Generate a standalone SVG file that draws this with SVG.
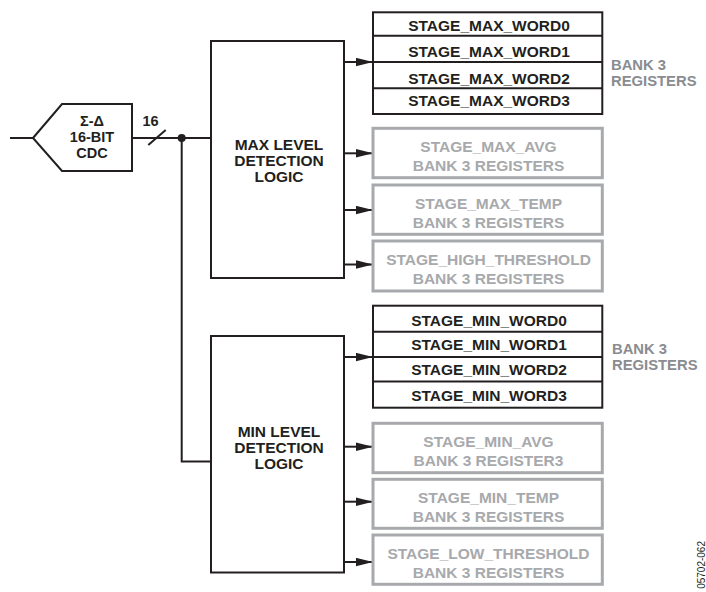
<svg xmlns="http://www.w3.org/2000/svg" width="706" height="592" viewBox="0 0 706 592">
<defs>
<marker id="arr" markerUnits="userSpaceOnUse" markerWidth="18" markerHeight="10" refX="17" refY="4.5" orient="auto">
<path d="M0,0.3 L17,4.5 L0,8.7 Z" fill="#231f20"/>
</marker>
<style>
.t{font-family:"Liberation Sans",Arial,sans-serif;font-weight:bold;font-size:15.5px;text-anchor:middle;fill:#231f20}
.s{font-size:14.5px}
.g{fill:#a7a9ac}
.lbl{font-family:"Liberation Sans",Arial,sans-serif;font-weight:bold;font-size:14.8px;fill:#898c90}
.box{fill:#fff;stroke:#231f20;stroke-width:2}
.gbox{fill:#fff;stroke:#a7a9ac;stroke-width:3}
.ln{fill:none;stroke:#231f20;stroke-width:2}
.foot{font-family:"Liberation Sans",Arial,sans-serif;font-size:10px;fill:#231f20;text-anchor:end}
</style>
</defs>

<g id="connectors">
<line class="ln" x1="10" y1="138" x2="33" y2="138"/>
<line class="ln" x1="132" y1="138" x2="211" y2="138"/>
<line class="ln" x1="148.3" y1="145" x2="165.7" y2="130"/>
<circle cx="181.7" cy="138" r="4" fill="#231f20"/>
<polyline class="ln" points="181.7,138 181.7,461.5 211,461.5"/>
<line class="ln" x1="344" y1="62" x2="373" y2="62" marker-end="url(#arr)"/>
<line class="ln" x1="344" y1="153.3" x2="373" y2="153.3" marker-end="url(#arr)"/>
<line class="ln" x1="344" y1="210" x2="373" y2="210" marker-end="url(#arr)"/>
<line class="ln" x1="344" y1="264.5" x2="373" y2="264.5" marker-end="url(#arr)"/>
<line class="ln" x1="344" y1="357" x2="373" y2="357" marker-end="url(#arr)"/>
<line class="ln" x1="344" y1="446.7" x2="373" y2="446.7" marker-end="url(#arr)"/>
<line class="ln" x1="344" y1="501.7" x2="373" y2="501.7" marker-end="url(#arr)"/>
<line class="ln" x1="344" y1="562" x2="373" y2="562" marker-end="url(#arr)"/>
</g>

<g id="cdc">
<path class="box" d="M33,138 L62,104 L132,104 L132,171 L62,171 Z"/>
<text class="t s" x="92" y="125.5">Σ-Δ</text>
<text class="t s" x="92" y="141.6">16-BIT</text>
<text class="t s" x="92" y="157.5">CDC</text>
</g>
<g id="bus-width"><text class="t s" x="150.5" y="126">16</text></g>

<g id="max-logic">
<rect class="box" x="211" y="41" width="133" height="237"/>
<text class="t" x="279" y="149.6">MAX LEVEL</text>
<text class="t" x="279" y="166.1">DETECTION</text>
<text class="t" x="279" y="181.6">LOGIC</text>
</g>

<g id="min-logic">
<rect class="box" x="211" y="336" width="133" height="236.5"/>
<text class="t" x="279" y="437.3">MIN LEVEL</text>
<text class="t" x="279" y="453.3">DETECTION</text>
<text class="t" x="279" y="469">LOGIC</text>
</g>

<g id="max-words">
<rect class="box" x="373" y="12.3" width="229.3" height="101.7"/>
<line class="ln" x1="373" y1="35.7" x2="602.3" y2="35.7"/>
<line class="ln" x1="373" y1="62" x2="602.3" y2="62"/>
<line class="ln" x1="373" y1="88.3" x2="602.3" y2="88.3"/>
<text class="t" x="489" y="30.6">STAGE_MAX_WORD0</text>
<text class="t" x="489" y="57.3">STAGE_MAX_WORD1</text>
<text class="t" x="489" y="83.9">STAGE_MAX_WORD2</text>
<text class="t" x="489" y="105.6">STAGE_MAX_WORD3</text>
<text class="lbl" x="611" y="70">BANK 3</text>
<text class="lbl" x="611" y="86">REGISTERS</text>
</g>

<g id="max-avg">
<rect class="gbox" x="373" y="128.3" width="229.3" height="49.4"/>
<text class="t g" x="488.5" y="152.4">STAGE_MAX_AVG</text>
<text class="t g" x="488.5" y="170.9">BANK 3 REGISTERS</text>
</g>
<g id="max-temp">
<rect class="gbox" x="373" y="185" width="229.3" height="49.3"/>
<text class="t g" x="488.5" y="209.1">STAGE_MAX_TEMP</text>
<text class="t g" x="488.5" y="227.6">BANK 3 REGISTERS</text>
</g>
<g id="max-high">
<rect class="gbox" x="373" y="241" width="229.3" height="50"/>
<text class="t g" x="488.5" y="265.1">STAGE_HIGH_THRESHOLD</text>
<text class="t g" x="488.5" y="283.6">BANK 3 REGISTERS</text>
</g>

<g id="min-words">
<rect class="box" x="373" y="305.7" width="229.3" height="102"/>
<line class="ln" x1="373" y1="331.7" x2="602.3" y2="331.7"/>
<line class="ln" x1="373" y1="357" x2="602.3" y2="357"/>
<line class="ln" x1="373" y1="381.5" x2="602.3" y2="381.5"/>
<text class="t" x="489" y="325.6">STAGE_MIN_WORD0</text>
<text class="t" x="489" y="349.9">STAGE_MIN_WORD1</text>
<text class="t" x="489" y="374.9">STAGE_MIN_WORD2</text>
<text class="t" x="489" y="400.6">STAGE_MIN_WORD3</text>
<text class="lbl" x="612" y="353.5">BANK 3</text>
<text class="lbl" x="612" y="370">REGISTERS</text>
</g>

<g id="min-avg">
<rect class="gbox" x="373" y="423.3" width="229.3" height="49.4"/>
<text class="t g" x="488.5" y="447.4">STAGE_MIN_AVG</text>
<text class="t g" x="488.5" y="465.9">BANK 3 REGISTER3</text>
</g>
<g id="min-temp">
<rect class="gbox" x="373" y="479.3" width="229.3" height="49"/>
<text class="t g" x="488.5" y="503.4">STAGE_MIN_TEMP</text>
<text class="t g" x="488.5" y="521.9">BANK 3 REGISTERS</text>
</g>
<g id="min-low">
<rect class="gbox" x="373" y="535" width="229.3" height="49.3"/>
<text class="t g" x="488.5" y="559.1">STAGE_LOW_THRESHOLD</text>
<text class="t g" x="488.5" y="577.6">BANK 3 REGISTERS</text>
</g>

<text class="foot" transform="translate(704.5,541) rotate(-90)">05702-062</text>
</svg>
